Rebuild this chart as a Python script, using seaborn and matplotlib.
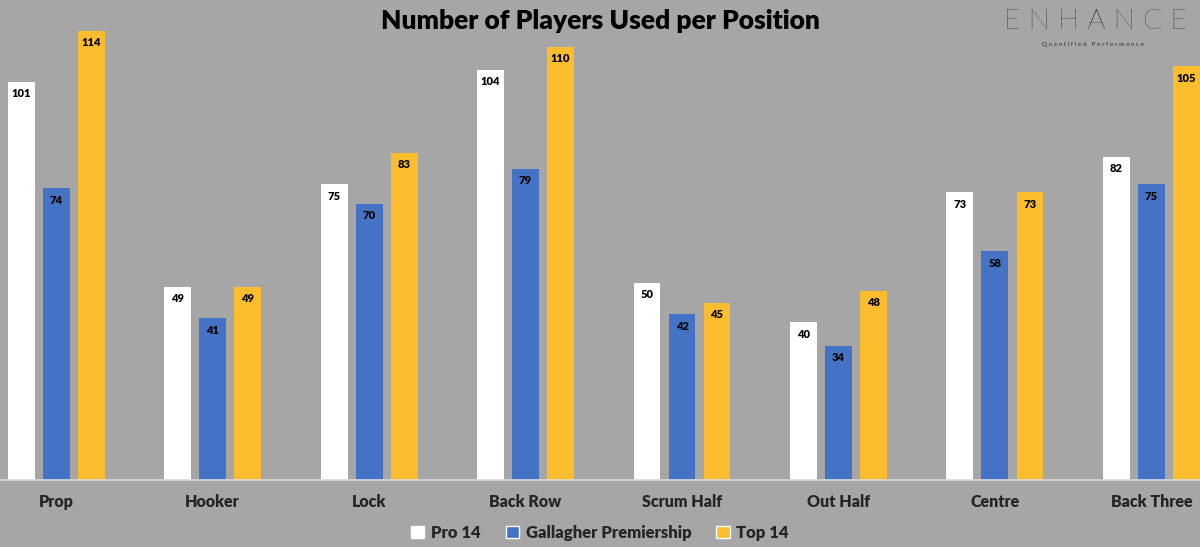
import pandas as pd
import numpy as np
import matplotlib.pyplot as plt
import matplotlib.patches as mpatches
import seaborn as sb

positions = ['Prop', 'Hooker', 'Lock', 'Back Row', 'Scrum Half', 'Out Half', 'Centre', 'Back Three']
leagues = ['Pro 14', 'Gallagher Premiership', 'Top 14']
pro14 = [101, 49, 75, 104, 50, 40, 73, 82]
premiership = [74, 41, 70, 79, 42, 34, 58, 75]
top14 = [114, 49, 83, 110, 45, 48, 73, 105]
colores = ['#FFFFFF', '#4472C4', '#FBBC2D']
fondo = '#A6A6A6'

datos = pd.DataFrame({
    'Position': positions * 3,
    'League': [leagues[0]] * 8 + [leagues[1]] * 8 + [leagues[2]] * 8,
    'Players': pro14 + premiership + top14,
})

sb.set_style('white')
plt.rcParams['font.family'] = ['Lato', 'DejaVu Sans']

fig = plt.figure(figsize=(12, 5.47), dpi=100, facecolor=fondo)
ax = fig.add_axes([0, 67 / 547, 1, 480 / 547])
ax.set_facecolor(fondo)

sb.barplot(data=datos, x='Position', y='Players', hue='League', order=positions,
           hue_order=leagues, palette=colores, width=0.671, gap=0.229,
           saturation=1, legend=False, linewidth=0, ax=ax)

for cont in ax.containers:
    for barra in cont:
        h = barra.get_height()
        ax.text(barra.get_x() + barra.get_width() / 2, h - 3, f'{int(h)}',
                ha='center', va='center', fontsize=8, fontweight='heavy', color='black')

ax.set_xlim(-0.358, 7.31)
ax.set_ylim(0, 121.8)
ax.set_xlabel('')
ax.set_ylabel('')
ax.set_yticks([])
ax.set_xticks(range(len(positions)))
ax.set_xticklabels(positions, fontweight='heavy', fontsize=11.5)
ax.tick_params(axis='x', length=0, pad=10)
for s in ['top', 'right', 'left']:
    ax.spines[s].set_visible(False)
ax.spines['bottom'].set_color('#D9D9D9')
ax.spines['bottom'].set_linewidth(1.2)

fig.text(0.5, 0.962, 'Number of Players Used per Position', ha='center', va='center',
         fontsize=19, fontweight='heavy', color='black')

fig.text(0.913, 0.96, 'E N H A N C E', ha='center', va='center', fontsize=20.5,
         fontweight='light', color='#111111')
fig.text(0.9105, 0.919, 'Q u a n t i f i e d   P e r f o r m a n c e', ha='center',
         va='center', fontsize=4.6, color='#333333')

handles = [mpatches.Patch(facecolor=c, label=l) for c, l in zip(colores, leagues)]
leg = fig.legend(handles=handles, loc='center', bbox_to_anchor=(0.5, 0.026), ncol=3,
                 frameon=False, handlelength=0.8, handleheight=0.8, handletextpad=0.4,
                 columnspacing=1.5, prop={'weight': 'heavy', 'size': 12})

plt.savefig('out.png', dpi=100, facecolor=fondo)
